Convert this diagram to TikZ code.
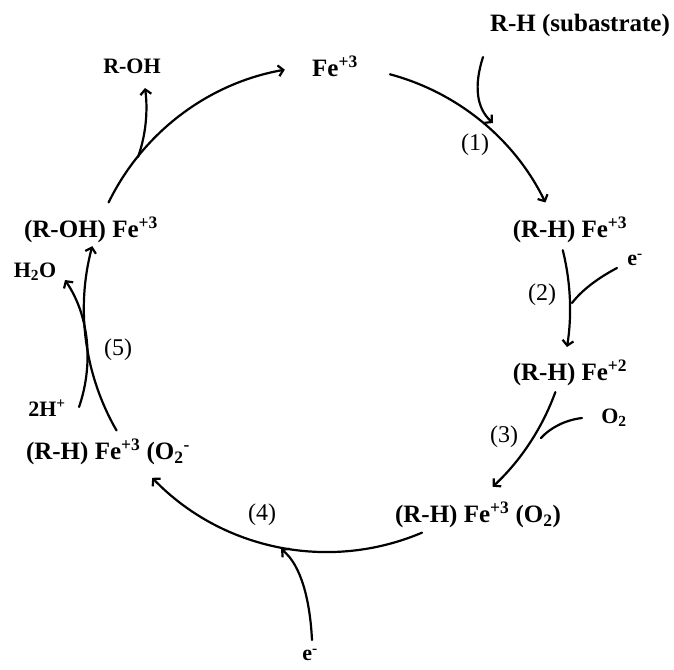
\documentclass[tikz,border=0pt]{standalone}
\usepackage{fontspec}
\setmainfont{Liberation Serif}
\usetikzlibrary{arrows.meta,calc}
\begin{document}
\begin{tikzpicture}[x=1pt,y=-1pt,
  lab/.style={font=\fontsize{25}{28}\selectfont\bfseries, inner sep=0pt},
  slab/.style={font=\fontsize{22}{26}\selectfont\bfseries, inner sep=0pt},
  num/.style={font=\fontsize{24}{28}\selectfont, inner sep=0pt},
  arr/.style={line width=2.2pt, line cap=round, -{Straight Barb[length=5pt,width=11pt,line width=2.2pt]}},
  ln/.style={line width=2.2pt, line cap=round}]
\useasboundingbox (0,0) rectangle (674,669);
% labels
\node[lab] (sub) at (580,25) {R-H (subastrate)};
\node[slab] (roh) at (132,66) {R-OH};
\node[lab] (fe) at (335,66) {Fe\textsuperscript{+3}};
\node[num] (n1) at (475,145) {(1)};
\node[lab] (rhfe3) at (570,230) {(R-H) Fe\textsuperscript{+3}};
\node[slab] (e1) at (635,260) {e\textsuperscript{-}};
\node[num] (n2) at (542,295) {(2)};
\node[lab] (rhfe2) at (570,373) {(R-H) Fe\textsuperscript{+2}};
\node[slab] (o2) at (614,418) {O\textsubscript{2}};
\node[num] (n3) at (504,437) {(3)};
\node[lab] (rhfeo2) at (478,515) {(R-H) Fe\textsuperscript{+3} (O\textsubscript{2})};
\node[num] (n4) at (262,515) {(4)};
\node[slab] (e2) at (310,655) {e\textsuperscript{-}};
\node[lab] (rhfeo2m) at (108,452) {(R-H) Fe\textsuperscript{+3} (O\textsubscript{2}\textsuperscript{-}};
\node[slab] (h2) at (47,408) {2H\textsuperscript{+}};
\node[num] (n5) at (118,350) {(5)};
\node[slab] (h2o) at (35,272) {H\textsubscript{2}O};
\node[lab] (rohfe) at (91,230) {(R-OH) Fe\textsuperscript{+3}};
% cycle
\coordinate (C) at (327,309);
\coordinate (a1) at ($(C)+(-75:243)$);
\coordinate (a2) at ($(C)+(-14:243)$);
\coordinate (a3) at ($(C)+(20:243)$);
\coordinate (a4) at ($(C)+(67:243)$);
\coordinate (a5) at ($(C)+(150:243)$);
\coordinate (a6) at ($(C)+(206:243)$);
\draw[arr] (a1) arc[start angle=-75,end angle=-26,radius=243];
\draw[arr] (a2) arc[start angle=-14,end angle=9,radius=243];
\draw[arr] (a3) arc[start angle=20,end angle=47,radius=243];
\draw[arr] (a4) arc[start angle=67,end angle=136,radius=243];
\draw[arr] (a5) arc[start angle=150,end angle=195,radius=243];
\draw[arr] (a6) arc[start angle=206,end angle=260,radius=243];
% side branches
\coordinate (s1a) at (483,57);  \coordinate (s1b) at (493,123);
\draw[arr] (s1a) .. controls (474,85) and (476,108) .. (s1b);
\coordinate (s2a) at (617,268); \coordinate (s2b) at (572,303);
\draw[ln] (s2a) .. controls (598,278) and (582,290) .. (s2b);
\coordinate (s3a) at (582,418); \coordinate (s3b) at (541,438);
\draw[ln] (s3a) .. controls (565,420) and (550,428) .. (s3b);
\coordinate (s4a) at (312,640); \coordinate (s4b) at (281,549);
\draw[arr] (s4a) .. controls (310,600) and (301,565) .. (s4b);
\coordinate (s5a) at (79,407); \coordinate (s5b) at (65,280);
\draw[arr] (s5a) .. controls (92,370) and (92,320) .. (s5b);
\coordinate (s6a) at (138,157); \coordinate (s6b) at (145,88);
\draw[arr] (s6a) .. controls (146,135) and (148,110) .. (s6b);
\end{tikzpicture}
\end{document}
